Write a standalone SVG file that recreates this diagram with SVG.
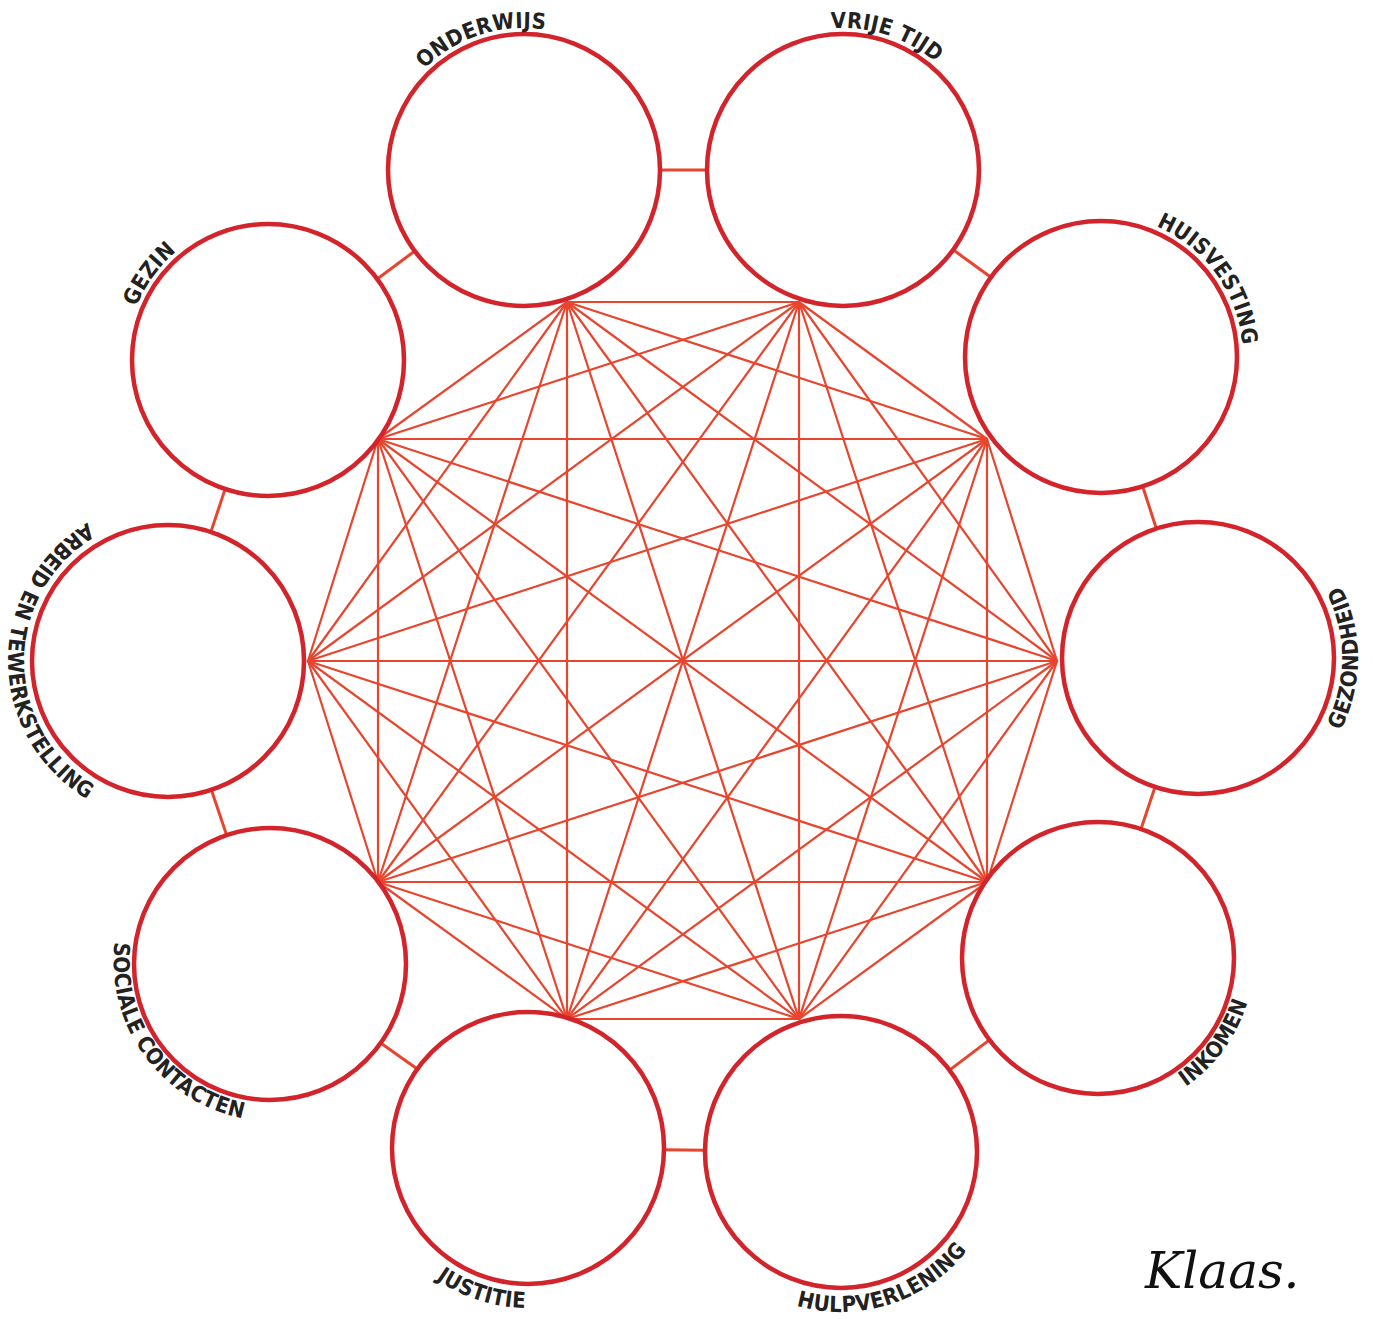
<svg xmlns="http://www.w3.org/2000/svg" xmlns:xlink="http://www.w3.org/1999/xlink" width="1373" height="1319" viewBox="0 0 1373 1319">
<style>
.web line{stroke:#e8452e;stroke-width:2.2;stroke-linecap:round}
.link{stroke:#e8452e;stroke-width:3}
.node circle{fill:#fff;stroke:#d3232b;stroke-width:4.5}
.lbl{font-family:"Liberation Sans Narrow","DejaVu Sans Condensed","Roboto Condensed","Liberation Sans",sans-serif;font-stretch:condensed;font-weight:bold;font-size:22px;fill:#222;letter-spacing:0.3px}
.sig{font-family:"DejaVu Serif","Liberation Serif",serif;font-style:italic;font-size:50px;fill:#111}
</style>
<defs>
<path id="pG" d="M184.5,474.9 A142,142 0 0 1 351.5,245.1"/>
<path id="pO" d="M388.9,213.9 A142,142 0 0 1 659.1,126.1"/>
<path id="pV" d="M707.9,126.1 A142,142 0 0 1 978.1,213.9"/>
<path id="pH" d="M1017.5,242.1 A142,142 0 0 1 1184.5,471.9"/>
<path id="pZ" d="M1198,818 A160,160 0 0 0 1198,498"/>
<path id="pI" d="M1004,1087.4 A160,160 0 0 0 1192,828.6"/>
<path id="pP" d="M688.8,1201.4 A160,160 0 0 0 993.2,1102.6"/>
<path id="pJ" d="M375.8,1098.6 A160,160 0 0 0 680.2,1197.4"/>
<path id="pS" d="M176,834.6 A160,160 0 0 0 364,1093.4"/>
<path id="pA" d="M168,501 A160,160 0 0 0 168,821"/>
</defs>
<rect width="1373" height="1319" fill="#fff"/>
<g id="connectors">
<g class="links">
<line class="link" x1="660" y1="170" x2="707" y2="170"/>
<line class="link" x1="953.1" y1="249.8" x2="990.9" y2="277.2"/>
<line class="link" x1="1142.7" y1="486.5" x2="1156.3" y2="528.5"/>
<line class="link" x1="1155" y1="787" x2="1141" y2="829"/>
<line class="link" x1="989.5" y1="1039.9" x2="949.5" y2="1070.1"/>
<line class="link" x1="705" y1="1150.3" x2="664" y2="1149.7"/>
<line class="link" x1="417.3" y1="1069" x2="380.7" y2="1043"/>
<line class="link" x1="226.6" y1="835.1" x2="211.4" y2="789.9"/>
<line class="link" x1="210.9" y1="531.9" x2="225.1" y2="489.1"/>
<line class="link" x1="377.2" y1="279" x2="414.8" y2="251"/>
</g>
<g class="web">
<line x1="1057" y1="661" x2="987" y2="882"/>
<line x1="1057" y1="661" x2="799" y2="1019"/>
<line x1="1057" y1="661" x2="567" y2="1019"/>
<line x1="1057" y1="661" x2="378" y2="882"/>
<line x1="1057" y1="661" x2="308" y2="661"/>
<line x1="1057" y1="661" x2="378" y2="439"/>
<line x1="1057" y1="661" x2="567" y2="302"/>
<line x1="1057" y1="661" x2="799" y2="302"/>
<line x1="1057" y1="661" x2="987" y2="439"/>
<line x1="987" y1="882" x2="799" y2="1019"/>
<line x1="987" y1="882" x2="567" y2="1019"/>
<line x1="987" y1="882" x2="378" y2="882"/>
<line x1="987" y1="882" x2="308" y2="661"/>
<line x1="987" y1="882" x2="378" y2="439"/>
<line x1="987" y1="882" x2="567" y2="302"/>
<line x1="987" y1="882" x2="799" y2="302"/>
<line x1="987" y1="882" x2="987" y2="439"/>
<line x1="799" y1="1019" x2="567" y2="1019"/>
<line x1="799" y1="1019" x2="378" y2="882"/>
<line x1="799" y1="1019" x2="308" y2="661"/>
<line x1="799" y1="1019" x2="378" y2="439"/>
<line x1="799" y1="1019" x2="567" y2="302"/>
<line x1="799" y1="1019" x2="799" y2="302"/>
<line x1="799" y1="1019" x2="987" y2="439"/>
<line x1="567" y1="1019" x2="378" y2="882"/>
<line x1="567" y1="1019" x2="308" y2="661"/>
<line x1="567" y1="1019" x2="378" y2="439"/>
<line x1="567" y1="1019" x2="567" y2="302"/>
<line x1="567" y1="1019" x2="799" y2="302"/>
<line x1="567" y1="1019" x2="987" y2="439"/>
<line x1="378" y1="882" x2="308" y2="661"/>
<line x1="378" y1="882" x2="378" y2="439"/>
<line x1="378" y1="882" x2="567" y2="302"/>
<line x1="378" y1="882" x2="799" y2="302"/>
<line x1="378" y1="882" x2="987" y2="439"/>
<line x1="308" y1="661" x2="378" y2="439"/>
<line x1="308" y1="661" x2="567" y2="302"/>
<line x1="308" y1="661" x2="799" y2="302"/>
<line x1="308" y1="661" x2="987" y2="439"/>
<line x1="378" y1="439" x2="567" y2="302"/>
<line x1="378" y1="439" x2="799" y2="302"/>
<line x1="378" y1="439" x2="987" y2="439"/>
<line x1="567" y1="302" x2="799" y2="302"/>
<line x1="567" y1="302" x2="987" y2="439"/>
<line x1="799" y1="302" x2="987" y2="439"/>
</g>
</g>
<g id="onderwijs" class="node"><circle cx="524" cy="170" r="136"/><text class="lbl"><textPath xlink:href="#pO" href="#pO" startOffset="50%" text-anchor="middle">ONDERWIJS</textPath></text></g>
<g id="vrije-tijd" class="node"><circle cx="843" cy="170" r="136"/><text class="lbl"><textPath xlink:href="#pV" href="#pV" startOffset="50%" text-anchor="middle">VRIJE TIJD</textPath></text></g>
<g id="huisvesting" class="node"><circle cx="1101" cy="357" r="136"/><text class="lbl"><textPath xlink:href="#pH" href="#pH" startOffset="50%" text-anchor="middle">HUISVESTING</textPath></text></g>
<g id="gezondheid" class="node"><circle cx="1198" cy="658" r="136"/><text class="lbl"><textPath xlink:href="#pZ" href="#pZ" startOffset="50%" text-anchor="middle">GEZONDHEID</textPath></text></g>
<g id="inkomen" class="node"><circle cx="1098" cy="958" r="136"/><text class="lbl"><textPath xlink:href="#pI" href="#pI" startOffset="50%" text-anchor="middle">INKOMEN</textPath></text></g>
<g id="hulpverlening" class="node"><circle cx="841" cy="1152" r="136"/><text class="lbl"><textPath xlink:href="#pP" href="#pP" startOffset="50%" text-anchor="middle">HULPVERLENING</textPath></text></g>
<g id="justitie" class="node"><circle cx="528" cy="1148" r="136"/><text class="lbl"><textPath xlink:href="#pJ" href="#pJ" startOffset="50%" text-anchor="middle">JUSTITIE</textPath></text></g>
<g id="sociale-contacten" class="node"><circle cx="270" cy="964" r="136"/><text class="lbl"><textPath xlink:href="#pS" href="#pS" startOffset="50%" text-anchor="middle">SOCIALE CONTACTEN</textPath></text></g>
<g id="arbeid" class="node"><circle cx="168" cy="661" r="136"/><text class="lbl"><textPath xlink:href="#pA" href="#pA" startOffset="50%" text-anchor="middle">ARBEID EN TEWERKSTELLING</textPath></text></g>
<g id="gezin" class="node"><circle cx="268" cy="360" r="136"/><text class="lbl"><textPath xlink:href="#pG" href="#pG" startOffset="50%" text-anchor="middle">GEZIN</textPath></text></g>
<text class="sig" x="1145" y="1288">Klaas.</text>
</svg>
